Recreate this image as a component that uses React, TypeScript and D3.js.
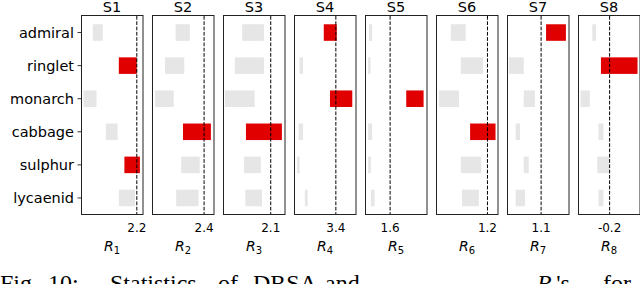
import React from "react";
import * as d3 from "d3";

const categories = ["admiral", "ringlet", "monarch", "cabbage", "sulphur", "lycaenid"];
const panelTitles = ["S1", "S2", "S3", "S4", "S5", "S6", "S7", "S8"];
const axisSubscripts = ["1", "2", "3", "4", "5", "6", "7", "8"];
const thresholds = [2.2, 2.4, 2.1, 3.4, 1.6, 1.2, 1.1, -0.2];
const thresholdLabels = ["2.2", "2.4", "2.1", "3.4", "1.6", "1.2", "1.1", "-0.2"];
const domainMin = [1.3, 1.56, 1.33, 2.05, 0.79, 0.37, 0.55, -0.71];
const domainMax = [2.3, 2.56, 2.33, 4.05, 2.79, 1.37, 1.55, 0.29];

// per panel, per category (admiral, ringlet, monarch, cabbage, sulphur, lycaenid)
const rangeLow = [
  [1.49, 1.91, 1.34, 1.7, 2.0, 1.91],
  [1.94, 1.77, 1.61, 2.06, 2.03, 1.95],
  [1.64, 1.52, 1.36, 1.7, 1.67, 1.69],
  [3.01, 2.23, 3.21, 2.2, 2.15, 2.4],
  [0.92, 0.89, 2.12, 0.89, 0.89, 0.98],
  [0.61, 0.77, 0.42, 0.92, 0.77, 0.79],
  [1.18, 0.58, 0.82, 0.69, 0.82, 0.69],
  [-0.48, -0.34, -0.67, -0.38, -0.4, -0.38],
];
const rangeHigh = [
  [1.65, 2.2, 1.55, 1.89, 2.25, 2.17],
  [2.17, 2.08, 1.91, 2.51, 2.33, 2.31],
  [1.99, 1.99, 1.84, 2.28, 1.94, 1.96],
  [3.43, 2.34, 3.93, 2.34, 2.23, 2.49],
  [1.02, 0.97, 2.68, 1.02, 0.98, 1.1],
  [0.85, 1.13, 0.74, 1.33, 1.1, 1.06],
  [1.5, 0.82, 1.0, 0.76, 0.9, 0.84],
  [-0.42, 0.25, -0.52, -0.3, -0.21, -0.3],
];
const highlighted = [
  ["ringlet", "sulphur"],
  ["cabbage"],
  ["cabbage"],
  ["admiral", "monarch"],
  ["monarch"],
  ["cabbage"],
  ["admiral"],
  ["ringlet"],
];

const captionWords = ["Fig.", "10:", "Statistics", "of", "DRSA", "and"];
const captionX = [0, 48, 110, 218, 253, 325];

const W = 640;
const H = 284;
const SANS = "'DejaVu Sans', sans-serif";
const SERIF = "'Liberation Serif', 'Times New Roman', serif";

export default function App() {
  const px = d3.scaleBand<string>().domain(panelTitles).range([81, 640]).paddingInner(9 / 71).paddingOuter(0);
  const y = d3.scaleBand<string>().domain(categories).range([16, 214.5]).paddingInner(0.5).paddingOuter(0.25);
  const bw = px.bandwidth();

  return (
    <svg width={W} height={H} style={{ position: "absolute", left: 0, top: 0, background: "#fff" }}>
      {/* y-axis labels */}
      {categories.map((c) => {
        const cy = (y(c) as number) + y.bandwidth() / 2;
        return (
          <g key={c}>
            <line x1={77.5} x2={81} y1={cy} y2={cy} stroke="#000" strokeWidth={0.8} />
            <text x={74} y={cy} dy="0.36em" textAnchor="end" fontFamily={SANS} fontSize={14.5} fill="#000">
              {c}
            </text>
          </g>
        );
      })}
      {panelTitles.map((t, i) => {
        const x0 = px(t) as number;
        const x = d3.scaleLinear().domain([domainMin[i], domainMax[i]]).range([x0, x0 + bw]);
        const tx = x(thresholds[i]);
        const cx = x0 + bw / 2;
        return (
          <g key={t}>
            <text x={cx} y={12} textAnchor="middle" fontFamily={SANS} fontSize={14.5} fill="#000">
              {t}
            </text>
            {categories.map((c, j) => {
              const lo = x(rangeLow[i][j]);
              const hi = x(rangeHigh[i][j]);
              const isHi = highlighted[i].includes(c);
              return (
                <rect
                  key={c}
                  x={lo}
                  y={y(c) as number}
                  width={hi - lo}
                  height={y.bandwidth()}
                  fill={isHi ? "#e00000" : "#e6e6e6"}
                />
              );
            })}
            <line x1={tx} x2={tx} y1={16} y2={214.5} stroke="#000" strokeWidth={1} strokeDasharray="3.7,1.6" />
            <rect
              x={Math.round(x0) + 0.5}
              y={15.5}
              width={Math.round(bw) - 0.5}
              height={199}
              fill="none"
              stroke="#222"
              strokeWidth={1}
            />
            <text x={tx} y={232} textAnchor="middle" fontFamily={SANS} fontSize={12} fill="#000">
              {thresholdLabels[i]}
            </text>
            <text x={cx} y={251} textAnchor="middle" fontFamily={SANS} fontSize={14} fill="#000">
              <tspan fontStyle="italic">R</tspan>
              <tspan fontSize={10} dy={2.5}>
                {axisSubscripts[i]}
              </tspan>
            </text>
          </g>
        );
      })}
      {captionWords.map((w, k) => (
        <text key={w} x={captionX[k]} y={291} fontFamily={SERIF} fontSize={24} fill="#000">
          {w}
        </text>
      ))}
      <text x={537} y={291} fontFamily={SERIF} fontSize={24} fill="#000">
        <tspan fontStyle="italic">R</tspan>
        <tspan fontStyle="italic" fontSize={16} dy={4}>
          i
        </tspan>
        <tspan dy={-4}>'s</tspan>
      </text>
      <text x={603} y={291} fontFamily={SERIF} fontSize={24} fill="#000">
        for
      </text>
    </svg>
  );
}
